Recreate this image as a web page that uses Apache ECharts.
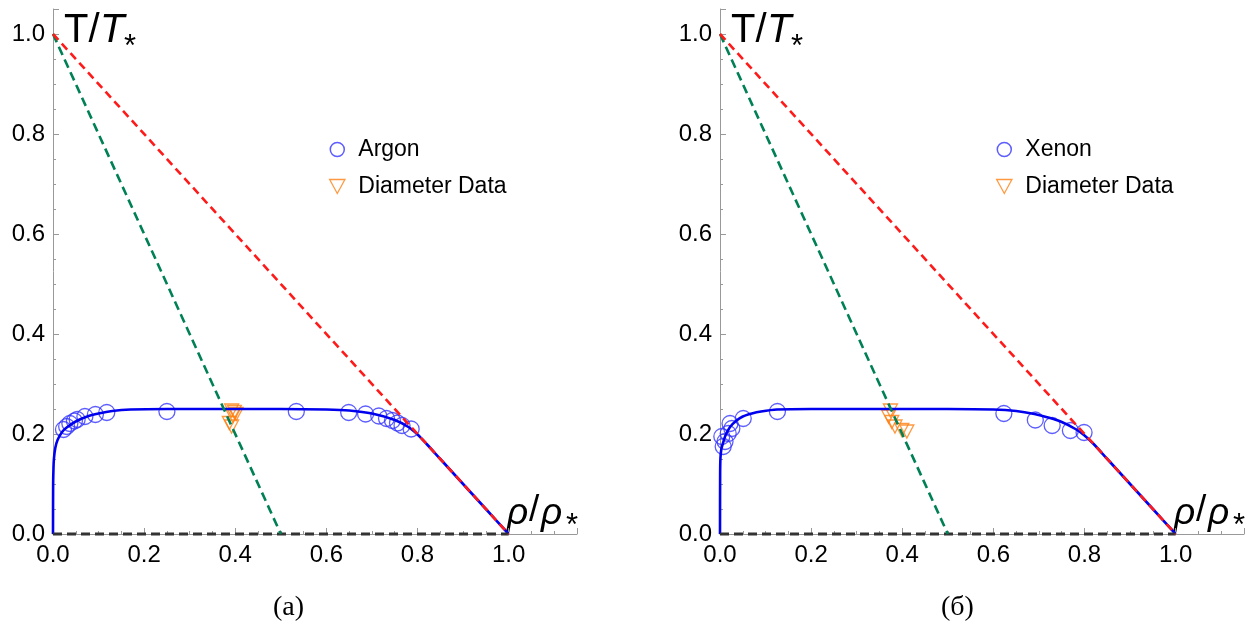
<!DOCTYPE html>
<html><head><meta charset="utf-8">
<script src="https://cdn.jsdelivr.net/npm/echarts@6/dist/echarts.min.js"></script>
<style>html,body{margin:0;padding:0;background:#fff}#c{width:1259px;height:637px}</style>
</head><body><div id="c"></div>
<script>
// ---- data ----
const argonCircles = [[0.023,0.209],[0.030,0.215],[0.037,0.221],[0.047,0.226],[0.053,0.229],[0.070,0.235],[0.093,0.239],[0.118,0.243],[0.250,0.245],[0.534,0.245],[0.649,0.243],[0.686,0.240],[0.715,0.236],[0.732,0.231],[0.745,0.227],[0.756,0.222],[0.766,0.217],[0.786,0.210]];
const argonDiameter = [[0.392,0.247],[0.398,0.244],[0.402,0.240],[0.395,0.236],[0.387,0.222],[0.392,0.215]];
const argonCurve = [[0,0],[0.0003,0.10],[0.001,0.13],[0.002,0.15],[0.005,0.172],[0.01,0.188],[0.02,0.204],[0.03,0.213],[0.05,0.225],[0.075,0.235],[0.1,0.241],[0.13,0.246],[0.17,0.249],[0.25,0.25],[0.5,0.25],[0.6,0.249],[0.65,0.247],[0.7,0.241],[0.75,0.228],[0.78,0.214],[0.8,0.199],[0.82,0.18],[0.85,0.15],[0.9,0.1],[0.95,0.05],[1.0,0.0]];
const xenonCircles = [[0.004,0.195],[0.007,0.175],[0.011,0.185],[0.018,0.201],[0.026,0.211],[0.022,0.221],[0.051,0.231],[0.126,0.245],[0.623,0.241],[0.692,0.228],[0.729,0.217],[0.769,0.207],[0.799,0.203]];
const xenonDiameter = [[0.374,0.247],[0.370,0.235],[0.377,0.224],[0.384,0.215],[0.399,0.208],[0.410,0.205]];
const xenonCurve = [[0,0],[0.0003,0.12],[0.001,0.152],[0.003,0.17],[0.007,0.183],[0.012,0.197],[0.022,0.214],[0.035,0.226],[0.05,0.235],[0.07,0.241],[0.09,0.245],[0.125,0.249],[0.2,0.25],[0.5,0.25],[0.6,0.249],[0.65,0.246],[0.69,0.24],[0.72,0.233],[0.75,0.224],[0.78,0.21],[0.8,0.197],[0.82,0.18],[0.85,0.15],[0.9,0.1],[0.95,0.05],[1.0,0.0]];
const lineRed = [[0,1],[1,0]];
const lineGreen = [[0,1],[0.5,0]];
const lineZero = [[0,0],[1,0]];
const xTickLabels = [0,0.2,0.4,0.6,0.8,1.0];
const yTickLabels = [0,0.2,0.4,0.6,0.8,1.0];
const panelNames = ['Argon','Xenon'];
const diamName = 'Diameter Data';
const captions = ['(a)','(б)'];

// ---- styling / layout ----
const gridLeft = [53, 720];
const triPath = 'path://M0,0 L12,0 L6,11 Z';
const axisGray = '#999';
function fmt(v, list){ for (const t of list) if (Math.abs(v-t)<1e-6) return t.toFixed(1); return ''; }
function xAx(gi){ return {type:'value', gridIndex:gi, min:0, max:1.15, interval:0.2, z:0,
  axisLine:{show:true, onZero:false, lineStyle:{color:axisGray,width:1}},
  axisTick:{show:true, inside:true, length:6, lineStyle:{color:axisGray}},
  minorTick:{show:true, splitNumber:4, length:3, lineStyle:{color:axisGray}},
  splitLine:{show:false}, minorSplitLine:{show:false},
  axisLabel:{color:'#000', fontSize:24, fontFamily:'Liberation Sans', margin:9, formatter:v=>fmt(v,xTickLabels)}}; }
function yAx(gi){ return {type:'value', gridIndex:gi, min:0, max:1.05, interval:0.2, z:0,
  axisLine:{show:true, onZero:false, lineStyle:{color:axisGray,width:1}},
  axisTick:{show:true, inside:true, length:6, lineStyle:{color:axisGray}},
  minorTick:{show:true, splitNumber:4, length:3, lineStyle:{color:axisGray}},
  splitLine:{show:false}, minorSplitLine:{show:false},
  axisLabel:{color:'#000', fontSize:24, fontFamily:'Liberation Sans', margin:8, formatter:v=>fmt(v,yTickLabels)}}; }

const circleSets = [argonCircles, xenonCircles];
const diamSets = [argonDiameter, xenonDiameter];
const curveSets = [argonCurve, xenonCurve];
const series = [];
for (let gi=0; gi<2; gi++) {
  series.push({type:'scatter', name:panelNames[gi], xAxisIndex:gi, yAxisIndex:gi, data:circleSets[gi], symbol:'circle', symbolSize:16,
    itemStyle:{color:'rgba(0,0,0,0)', borderColor:'#3535ff', borderWidth:1.3}, z:10});
  series.push({type:'scatter', name:diamName, xAxisIndex:gi, yAxisIndex:gi, data:diamSets[gi], symbol:triPath, symbolSize:[14,13],
    itemStyle:{color:'rgba(0,0,0,0)', borderColor:'#ff8010', borderWidth:1.3}, z:10});
  series.push({type:'line', xAxisIndex:gi, yAxisIndex:gi, data:curveSets[gi], showSymbol:false, smooth:0.3, clip:false,
    lineStyle:{color:'#0000ee', width:2.6}, z:11});
  series.push({type:'line', xAxisIndex:gi, yAxisIndex:gi, data:lineZero, showSymbol:false, clip:false,
    lineStyle:{color:'#333333', width:3, type:[9,5]}, z:12});
  series.push({type:'line', xAxisIndex:gi, yAxisIndex:gi, data:lineGreen, showSymbol:false, clip:false,
    lineStyle:{color:'#008055', width:2.6, type:[9,5]}, z:12});
  series.push({type:'line', xAxisIndex:gi, yAxisIndex:gi, data:lineRed, showSymbol:false, clip:false,
    lineStyle:{color:'#ff1a1a', width:2.6, type:[8,5]}, z:13});
}

function legendFor(gi){
  return {orient:'vertical', left: gridLeft[gi]+276, top:138, itemWidth:32, itemHeight:14, itemGap:14, padding:0,
    textStyle:{fontSize:23, color:'#000', fontFamily:'Liberation Sans'},
    data:[{name:panelNames[gi], icon:'circle', itemStyle:{color:'rgba(0,0,0,0)', borderColor:'#3535ff', borderWidth:1.5}},
          {name:diamName, icon:triPath, itemStyle:{color:'rgba(0,0,0,0)', borderColor:'#ff8010', borderWidth:1.3}}]};
}

const graphic = [];
for (let gi=0; gi<2; gi++) {
  const o = gridLeft[gi]-53;
  const f = 'Liberation Sans';
  graphic.push({type:'text', left:64+o, top:11, style:{text:'T/', font:'40px '+f, fill:'#000'}});
  graphic.push({type:'text', left:100+o, top:11, style:{text:'T', font:'italic 40px '+f, fill:'#000'}});
  graphic.push({type:'text', left:124+o, top:32, style:{text:'*', font:'31px '+f, fill:'#000'}});
  graphic.push({type:'text', left:507+o, top:495, style:{text:'ρ', font:'italic 37px '+f, fill:'#000'}});
  graphic.push({type:'text', left:529+o, top:492, style:{text:'/', font:'37px '+f, fill:'#000'}});
  graphic.push({type:'text', left:541+o, top:495, style:{text:'ρ', font:'italic 37px '+f, fill:'#000'}});
  graphic.push({type:'text', left:566+o, top:511, style:{text:'*', font:'31px '+f, fill:'#000'}});
}
graphic.push({type:'text', left:273, top:594, style:{text:captions[0], font:'28px "Liberation Serif"', fill:'#000'}});
graphic.push({type:'text', left:941, top:594, style:{text:captions[1], font:'28px "Liberation Serif"', fill:'#000'}});

const chart = echarts.init(document.getElementById('c'), null, {renderer:'canvas'});
chart.setOption({
  animation:false, backgroundColor:'#fff',
  grid:[{left:gridLeft[0], top:9, width:524, height:525},{left:gridLeft[1], top:9, width:524, height:525}],
  xAxis:[xAx(0), xAx(1)], yAxis:[yAx(0), yAx(1)],
  legend:[legendFor(0), legendFor(1)],
  series, graphic
});
</script></body></html>
